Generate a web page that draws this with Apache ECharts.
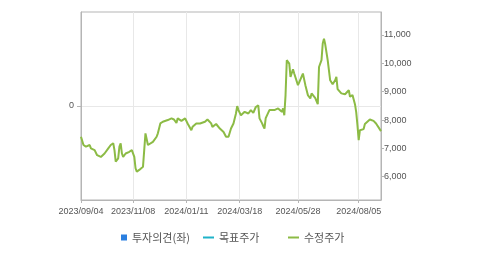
<!DOCTYPE html>
<html>
<head>
<meta charset="utf-8">
<script src="https://cdn.jsdelivr.net/npm/echarts@6/dist/echarts.min.js"></script>
<style>html,body{margin:0;padding:0;background:#fff}#c{width:479px;height:254px}</style>
</head>
<body>
<div id="c"></div>
<script>
// trading-day index (0 = 2023/09/04) and adjusted price (수정주가)
const dayIdx = [0,2,4,7,8,11,13,16,19,22,
 24,26,27,28,30,31,32,33,34,36,
 39,41,43,44,45,47,48,50,51,52,
 53,54,55,58,59,61,62,63,64,66,
 67,70,73,75,77,78,81,84,86,89,
 90,93,96,97,100,102,105,106,109,112,
 115,117,119,121,123,125,126,127,129,132,
 135,137,139,141,143,144,146,147,148,149,
 152,156,159,162,163,164,165,166,167,168,
 169,171,172,175,176,179,181,183,185,186,
 189,191,192,194,195,196,197,199,201,203,
 205,206,207,210,213,216,217,219,221,222,
 223,224,225,226,228,229,231,233,236,238,
 242];
const prices = [7410,7120,7060,7120,7000,6940,6760,6700,6820,7000,
 7120,7180,6940,6530,6650,7060,7180,6820,6700,6820,
 6880,6940,6700,6300,6180,6240,6180,6350,6940,7530,
 7580,7120,7180,7230,7180,7410,7530,7580,7880,7940,
 7880,8000,8060,8020,7900,8060,7970,8060,7880,7640,
 7760,7880,7880,7820,7940,8020,7880,7760,7860,7700,
 7580,7410,7410,7700,7880,8230,8490,8350,8170,8290,
 8230,8350,8250,8460,8520,8060,7890,7790,7700,8070,
 8350,8350,8410,8290,8410,8170,8880,10110,10170,9990,
 9520,9790,9640,9230,9330,9640,9230,8880,8760,8940,
 8770,8560,9870,10110,10700,10870,10670,10110,9400,9260,
 9400,9520,9090,8940,8910,9050,8820,8880,8560,8280,
 7820,7290,7640,7700,7680,7860,7940,8020,7970,7880,
 7610];
const opinion = [];   // 투자의견(좌)
const target = [];    // 목표주가
const tickIdx = [0, 42, 85, 128, 175, 224];
const tickLabels = ['2023/09/04','2023/11/08','2024/01/11','2024/03/18','2024/05/28','2024/08/05'];
const rightTicks = [6000, 7000, 8000, 9000, 10000, 11000];
const leftTicks = [0];

const font = 'Liberation Sans, Arial, sans-serif';
const axisColor = '#b5b5b5';
const gridColor = '#e8e8e8';
const labelColor = '#555';
const priceData = dayIdx.map((d, i) => [d, prices[i]]);
const chart = echarts.init(document.getElementById('c'), null, {renderer: 'canvas'});
chart.setOption({
  animation: false,
  textStyle: {fontFamily: font},
  grid: {left: 81, right: 98, top: 12, bottom: 54, show: true, borderColor: axisColor, borderWidth: 1},
  legend: [
    {data: ['투자의견(좌)'], left: 116, top: 227, icon: 'rect', itemWidth: 6, itemHeight: 6,
     textStyle: {fontFamily: 'Noto Sans CJK KR', fontSize: 11, color: labelColor}},
    {data: ['목표주가'], left: 198, top: 227, icon: 'rect', itemWidth: 11, itemHeight: 2,
     textStyle: {fontFamily: 'Noto Sans CJK KR', fontSize: 11, color: labelColor}},
    {data: ['수정주가'], left: 283, top: 227, icon: 'rect', itemWidth: 11, itemHeight: 2,
     textStyle: {fontFamily: 'Noto Sans CJK KR', fontSize: 11, color: labelColor}}
  ],
  xAxis: {
    type: 'value', min: 0, max: 242,
    axisLine: {onZero: false, lineStyle: {color: axisColor}},
    axisTick: {customValues: tickIdx, length: 3, lineStyle: {color: axisColor}},
    axisLabel: {customValues: tickIdx, color: labelColor, fontSize: 9, fontFamily: font, margin: 7,
      formatter: v => tickLabels[tickIdx.indexOf(v)] || ''},
    splitLine: {show: true, lineStyle: {color: gridColor}}
  },
  yAxis: [
    {type: 'value', min: -1, max: 1, position: 'left',
     axisLine: {show: true, onZero: false, lineStyle: {color: axisColor}},
     axisTick: {show: true, customValues: leftTicks, length: 4, lineStyle: {color: axisColor}},
     axisLabel: {customValues: leftTicks, color: labelColor, fontSize: 9, fontFamily: font, margin: 7},
     splitLine: {show: true, lineStyle: {color: gridColor}}},
    {type: 'value', min: 5180, max: 11810, position: 'right',
     axisLine: {show: true, onZero: false, lineStyle: {color: axisColor}},
     axisTick: {show: true, customValues: rightTicks, length: 3, lineStyle: {color: axisColor}},
     axisLabel: {customValues: rightTicks, color: labelColor, fontSize: 9, fontFamily: font, margin: 3,
       formatter: v => String(v).replace(/\B(?=(\d{3})+(?!\d))/g, ',')},
     splitLine: {show: false}}
  ],
  series: [
    {name: '투자의견(좌)', type: 'bar', yAxisIndex: 0, data: opinion, itemStyle: {color: '#2a7fe0'}},
    {name: '목표주가', type: 'line', yAxisIndex: 1, data: target, itemStyle: {color: '#1fb3c9'}, lineStyle: {color: '#1fb3c9', width: 2}, showSymbol: false},
    {name: '수정주가', type: 'line', yAxisIndex: 1, data: priceData, itemStyle: {color: '#8cbb45'},
     lineStyle: {color: '#8cbb45', width: 2}, showSymbol: false, symbol: 'none'}
  ]
});
</script>
</body>
</html>
